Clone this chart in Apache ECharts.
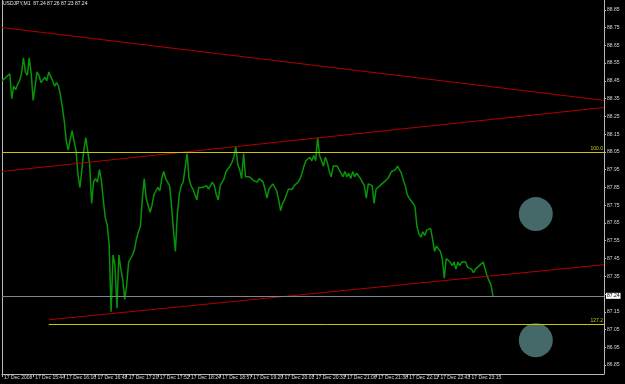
<!DOCTYPE html>
<html>
<head>
<meta charset="utf-8">
<script src="https://cdn.jsdelivr.net/npm/echarts@6/dist/echarts.min.js"></script>
<style>
  html, body { margin: 0; padding: 0; background: #000; }
  #chart { width: 625px; height: 384px; }
</style>
</head>
<body>
<div id="chart"></div>
<script>
// USDJPY M1, 17 Dec 2008 - close prices, one point per 2 bars
const prices = [
  88.45, 88.44, 88.47, 88.48, 88.49, 88.35, 88.42, 88.40, 88.43, 88.45,
  88.49, 88.58, 88.50, 88.48, 88.58, 88.49, 88.34, 88.42, 88.50, 88.48,
  88.44, 88.45, 88.47, 88.45, 88.50, 88.49, 88.45, 88.42, 88.44, 88.42,
  88.37, 88.30, 88.22, 88.11, 88.06, 88.12, 88.17, 88.11, 88.06, 87.92,
  87.85, 87.95, 88.06, 88.13, 88.12, 87.98, 87.76, 87.88, 87.90, 87.88,
  87.95, 87.89, 87.78, 87.68, 87.64, 87.53, 87.15, 87.47, 87.41, 87.17,
  87.47, 87.39, 87.33, 87.22, 87.30, 87.43, 87.45, 87.47, 87.50, 87.56,
  87.60, 87.63, 87.78, 87.90, 87.79, 87.75, 87.71, 87.75, 87.81, 87.83,
  87.85, 87.83, 87.90, 87.94, 87.90, 87.88, 87.86, 87.75, 87.61, 87.49,
  87.70, 87.81, 87.86, 87.88, 87.89, 88.04, 87.90, 87.86, 87.84, 87.81,
  87.78, 87.85, 87.86, 87.85, 87.84, 87.86, 87.84, 87.85, 87.88, 87.86,
  87.81, 87.78, 87.86, 87.88, 87.90, 87.94, 87.95, 87.97, 87.99, 88.02,
  88.08, 87.98, 87.95, 87.90, 88.04, 87.91, 87.90, 87.91, 87.90, 87.89,
  87.89, 87.88, 87.90, 87.90, 87.88, 87.84, 87.79, 87.84, 87.85, 87.87,
  87.86, 87.83, 87.78, 87.72, 87.76, 87.78, 87.81, 87.84, 87.85, 87.84,
  87.86, 87.87, 87.88, 87.90, 87.93, 87.97, 88.00, 88.00, 88.02, 88.00,
  88.03, 88.00, 88.13, 88.03, 88.00, 87.97, 88.02, 87.99, 87.94, 87.91,
  87.97, 87.96, 87.97, 87.96, 87.93, 87.91, 87.94, 87.91, 87.93, 87.90,
  87.94, 87.91, 87.93, 87.94, 87.90, 87.89, 87.86, 87.79, 87.87, 87.88,
  87.86, 87.76, 87.84, 87.85, 87.86, 87.87, 87.88, 87.87, 87.90, 87.91,
  87.94, 87.94, 87.95, 87.97, 87.95, 87.93, 87.89, 87.86, 87.81, 87.79,
  87.78, 87.76, 87.74, 87.63, 87.59, 87.57, 87.60, 87.58, 87.61, 87.60,
  87.62, 87.56, 87.49, 87.52, 87.51, 87.49, 87.45, 87.34, 87.45, 87.44,
  87.43, 87.41, 87.43, 87.39, 87.43, 87.41, 87.43, 87.42, 87.43, 87.40,
  87.41, 87.39, 87.37, 87.39, 87.38, 87.41, 87.40, 87.43, 87.39, 87.35,
  87.34, 87.30, 87.24
];

const timeLabels = [
  '17 Dec 2008', '17 Dec 15:44', '17 Dec 16:16', '17 Dec 16:48', '17 Dec 17:20',
  '17 Dec 17:52', '17 Dec 18:24', '17 Dec 18:57', '17 Dec 19:29', '17 Dec 20:01',
  '17 Dec 20:33', '17 Dec 21:06', '17 Dec 21:38', '17 Dec 22:11', '17 Dec 22:43',
  '17 Dec 23:15'
];
const slotCount = 310;      // chart width in slots (incl. right shift)
const slotsPerLabel = 16;

const yTickValues = [86.85, 86.95, 87.05, 87.15, 87.25, 87.35, 87.45, 87.55, 87.65, 87.75,
  87.85, 87.95, 88.05, 88.15, 88.25, 88.35, 88.45, 88.55, 88.65, 88.75, 88.85];
const yLabelValues = [86.85, 86.95, 87.05, 87.15, 87.35, 87.45, 87.55, 87.65, 87.75,
  87.85, 87.95, 88.05, 88.15, 88.25, 88.35, 88.45, 88.55, 88.65, 88.75, 88.85];
const yMin = 86.80;
const yMax = 88.905;

// trendlines: [slot, price] start and end
const trendUpper = [[0, 88.75], [309, 88.34]];
const trendMid = [[0, 87.94], [309, 88.30]];
const trendLow = [[24, 87.105], [309, 87.415]];
// fibo levels
const fiboValues = [88.05, 87.08];
const fiboNames = ['100.0', '127.2'];
const fiboStart = [0, 24];
const bidPrice = 87.24;
const ohlc = [87.24, 87.26, 87.23, 87.24];
// ellipse objects
const circleMarks = [[274, 87.70], [274, 86.99]];

const cats = Array.from({ length: slotCount }, (_, i) => String(i));
const showSlot = (i) => i % slotsPerLabel === 0 && i / slotsPerLabel < timeLabels.length;

const RED = '#b00000';
const YEL = '#c8c800';
const AXIS = '#b8b8b8';
const FONT = 'Liberation Sans';

function seg(pts) {
  return [
    { coord: [String(pts[0][0]), pts[0][1]], lineStyle: { color: RED, width: 1, type: 'solid' }, label: { show: false } },
    { coord: [String(pts[1][0]), pts[1][1]] }
  ];
}
function fibo(k) {
  return [
    {
      coord: [String(fiboStart[k]), fiboValues[k]],
      lineStyle: { color: YEL, width: 1, type: 'solid' },
      label: { show: true, formatter: fiboNames[k], position: 'insideEndTop', distance: 1, color: YEL, fontSize: 5, fontFamily: FONT }
    },
    { coord: [String(slotCount - 1), fiboValues[k]] }
  ];
}

let chart = echarts.init(document.getElementById('chart'));
let option = {
  backgroundColor: '#000',
  animation: false,
  title: {
    text: 'USDJPY,M1  ' + ohlc.map(v => v.toFixed(2)).join(' '),
    left: 3,
    top: 1,
    padding: 0,
    textStyle: { color: '#e8e8e8', fontSize: 5, fontWeight: 'normal', fontFamily: FONT }
  },
  grid: { left: 2, right: 21, top: 0, bottom: 10 },
  xAxis: {
    type: 'category',
    data: cats,
    boundaryGap: false,
    axisLine: { lineStyle: { color: AXIS, width: 1 } },
    axisTick: { interval: showSlot, length: 3, lineStyle: { color: AXIS } },
    axisLabel: {
      interval: showSlot,
      formatter: (v, i) => timeLabels[Math.round(Number(v) / slotsPerLabel)] || '',
      align: 'left',
      padding: [0, 0, 0, 2],
      margin: 1,
      color: '#d8d8d8',
      fontSize: 5,
      fontFamily: FONT
    },
    splitLine: { show: false }
  },
  yAxis: [
    {
      type: 'value',
      position: 'right',
      min: yMin,
      max: yMax,
      splitLine: { show: false },
      axisLine: { show: true, lineStyle: { color: AXIS } },
      axisTick: { show: true, customValues: yTickValues, length: 2, lineStyle: { color: AXIS } },
      axisLabel: {
        customValues: yLabelValues,
        formatter: (v) => v.toFixed(2),
        margin: 3,
        color: '#d8d8d8',
        fontSize: 5,
        fontFamily: FONT
      }
    },
    {
      type: 'value',
      position: 'left',
      min: yMin,
      max: yMax,
      splitLine: { show: false },
      axisLine: { show: true, lineStyle: { color: AXIS } },
      axisTick: { show: false },
      axisLabel: { show: false }
    }
  ],
  series: [
    {
      name: 'ellipses',
      type: 'scatter',
      data: circleMarks.map(p => [String(p[0]), p[1]]),
      symbol: 'circle',
      symbolSize: 34,
      itemStyle: { color: '#456869', opacity: 1 },
      silent: true,
      z: 1
    },
    {
      name: 'USDJPY',
      type: 'line',
      data: prices,
      showSymbol: false,
      symbol: 'none',
      lineStyle: { color: '#089408', width: 1.5 },
      silent: true,
      z: 3,
      markLine: {
        symbol: ['none', 'none'],
        silent: true,
        animation: false,
        data: [
          seg(trendUpper),
          seg(trendMid),
          seg(trendLow),
          fibo(0),
          fibo(1),
          [
            {
              coord: ['0', bidPrice],
              lineStyle: { color: '#7a8896', width: 1, type: 'solid' },
              label: {
                show: true,
                formatter: bidPrice.toFixed(2),
                position: 'end',
                distance: 2,
                color: '#000',
                backgroundColor: '#fff',
                padding: [1, 1, 0, 1],
                fontSize: 5,
                fontFamily: FONT
              }
            },
            { coord: [String(slotCount - 1), bidPrice] }
          ]
        ]
      }
    }
  ]
};
option && chart.setOption(option);
</script>
</body>
</html>
